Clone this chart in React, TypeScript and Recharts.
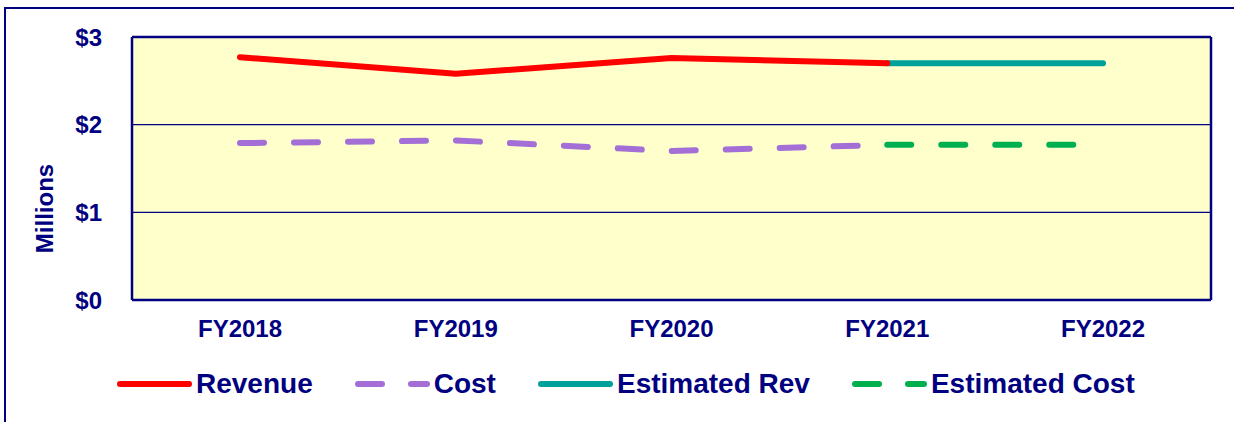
import {
  LineChart,
  Line,
  XAxis,
  YAxis,
  CartesianGrid,
  Legend,
} from 'recharts';

const years = ['FY2018', 'FY2019', 'FY2020', 'FY2021', 'FY2022'];
const revenue = [2.77, 2.58, 2.76, 2.7, null];
const cost = [1.79, 1.82, 1.7, 1.77, null];
const estimatedRev = [null, null, null, 2.7, 2.7];
const estimatedCost = [null, null, null, 1.77, 1.77];
const yTicks = [0, 1, 2, 3];

const NAVY = '#000080';
const FONT = '"Liberation Sans", Arial, sans-serif';

const data = years.map((year, i) => ({
  year,
  revenue: revenue[i],
  cost: cost[i],
  estimatedRev: estimatedRev[i],
  estimatedCost: estimatedCost[i],
}));

const legendItems = [
  { name: 'Revenue', color: '#FF0000', dashed: false },
  { name: 'Cost', color: '#A36FD6', dashed: true },
  { name: 'Estimated Rev', color: '#00A19A', dashed: false },
  { name: 'Estimated Cost', color: '#00B050', dashed: true },
];

const renderLegend = () => (
  <div
    style={{
      display: 'flex',
      alignItems: 'center',
      height: 32,
      paddingLeft: 117,
      fontFamily: FONT,
      fontWeight: 700,
      fontSize: 28,
      color: NAVY,
    }}
  >
    {legendItems.map((item) => (
      <div
        key={item.name}
        style={{ display: 'flex', alignItems: 'center', marginRight: 42 }}
      >
        <svg width={75} height={12} style={{ display: 'block' }}>
          <line
            x1={3}
            y1={6}
            x2={72}
            y2={6}
            stroke={item.color}
            strokeWidth={6}
            strokeLinecap="round"
            strokeDasharray={item.dashed ? '24 29' : undefined}
          />
        </svg>
        <span style={{ marginLeft: 4, whiteSpace: 'nowrap' }}>{item.name}</span>
      </div>
    ))}
  </div>
);

const MillionsLabel = (props: any) => {
  const { viewBox } = props;
  const x = viewBox.x + 44;
  const y = viewBox.y + viewBox.height / 2 + 40;
  return (
    <text
      x={x}
      y={y}
      transform={`rotate(-90, ${x}, ${y})`}
      textAnchor="middle"
      dominantBaseline="central"
      fill={NAVY}
      fontFamily={FONT}
      fontWeight={700}
      fontSize={24}
    >
      Millions
    </text>
  );
};

const tickStyle = {
  fill: NAVY,
  fontFamily: FONT,
  fontWeight: 700,
  fontSize: 24,
};

const frameLine = { stroke: NAVY, strokeWidth: 2.5 };

export default function App() {
  return (
    <div
      style={{
        position: 'absolute',
        top: 0,
        left: 0,
        width: 1234,
        height: 422,
        overflow: 'hidden',
        background: '#fff',
      }}
    >
      <div
        style={{
          position: 'absolute',
          left: 4,
          top: 7,
          width: 1300,
          height: 500,
          border: `2.5px solid ${NAVY}`,
        }}
      />
      <div style={{ position: 'absolute', top: 0, left: 0 }}>
        <LineChart
          width={1234}
          height={422}
          data={data}
          margin={{ top: 36, right: 22, left: 0, bottom: 0 }}
        >
          <CartesianGrid
            vertical={false}
            fill="#FFFFCC"
            fillOpacity={1}
            stroke={NAVY}
            strokeWidth={1.3}
          />
          <XAxis
            dataKey="year"
            height={122}
            padding={{ left: 108, right: 108 }}
            axisLine={frameLine}
            tickLine={false}
            tickSize={0}
            tickMargin={20}
            tick={tickStyle}
            interval={0}
          />
          <XAxis
            xAxisId="top"
            orientation="top"
            dataKey="year"
            height={1}
            padding={{ left: 108, right: 108 }}
            axisLine={frameLine}
            tickLine={false}
            tick={false}
          />
          <YAxis
            width={132}
            domain={[0, 3]}
            ticks={yTicks}
            axisLine={frameLine}
            tickLine={false}
            tickSize={0}
            tickMargin={30}
            tick={tickStyle}
            tickFormatter={(v) => `$${v}`}
            label={MillionsLabel}
          />
          <YAxis
            yAxisId="right"
            orientation="right"
            width={1}
            domain={[0, 3]}
            axisLine={frameLine}
            tickLine={false}
            tick={false}
          />
          <Legend
            verticalAlign="middle"
            align="center"
            layout="horizontal"
            content={renderLegend}
            wrapperStyle={{ top: 368, left: 0, width: 1234 }}
          />
          <Line
            dataKey="estimatedRev"
            stroke="#00A19A"
            strokeWidth={6}
            strokeLinecap="round"
            dot={false}
            activeDot={false}
            isAnimationActive={false}
          />
          <Line
            dataKey="estimatedCost"
            stroke="#00B050"
            strokeWidth={6}
            strokeLinecap="round"
            strokeDasharray="24 30"
            dot={false}
            activeDot={false}
            isAnimationActive={false}
          />
          <Line
            dataKey="revenue"
            stroke="#FF0000"
            strokeWidth={6}
            strokeLinecap="round"
            strokeLinejoin="round"
            dot={false}
            activeDot={false}
            isAnimationActive={false}
          />
          <Line
            dataKey="cost"
            stroke="#A36FD6"
            strokeWidth={6}
            strokeLinecap="round"
            strokeDasharray="24 30"
            dot={false}
            activeDot={false}
            isAnimationActive={false}
          />
        </LineChart>
      </div>
    </div>
  );
}
